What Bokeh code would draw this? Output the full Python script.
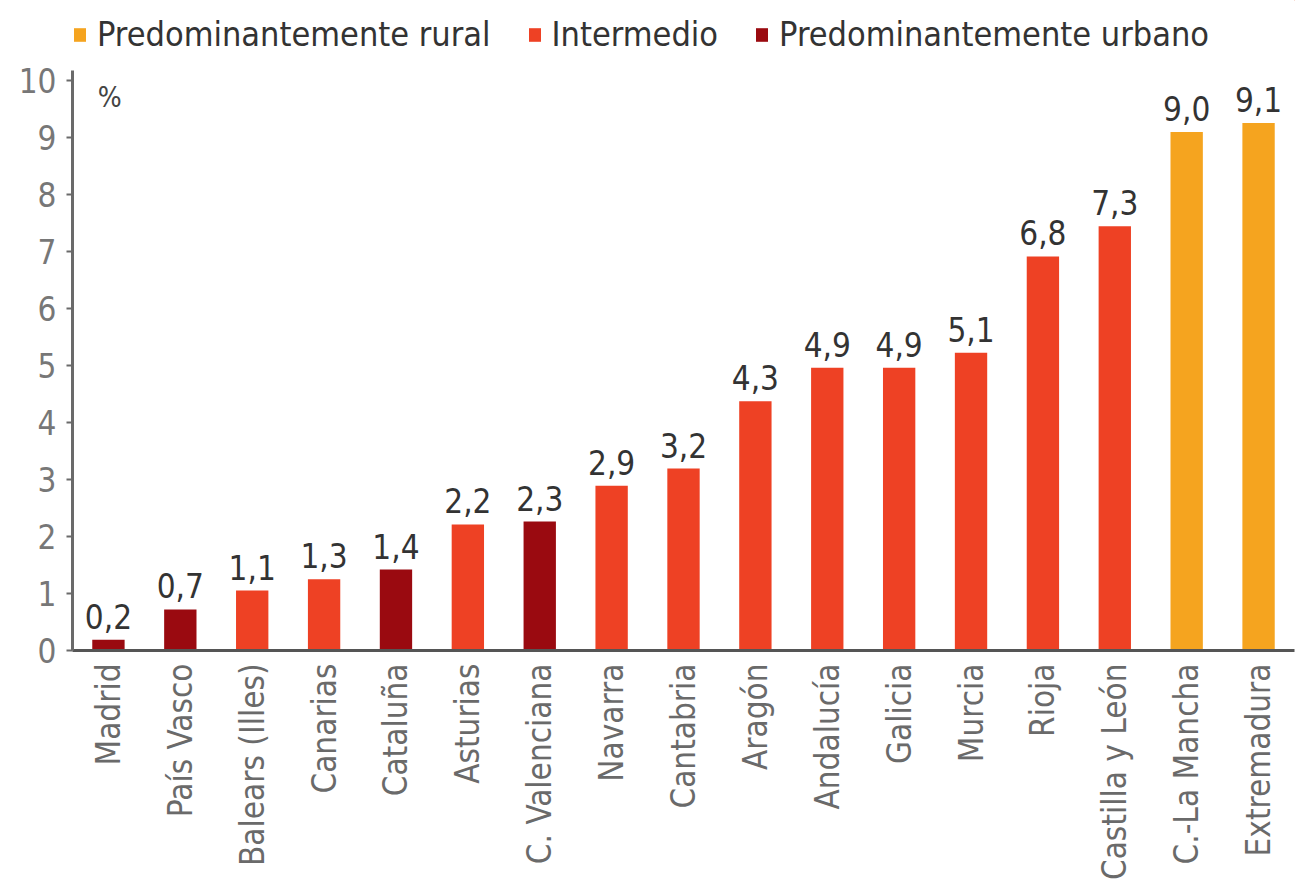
import math
from bokeh.plotting import figure
from bokeh.layouts import column
from bokeh.models import (ColumnDataSource, FactorRange, Range1d, FixedTicker,
                          Legend, LegendItem, Label, LabelSet)
from bokeh.core.properties import value
from bokeh.embed import file_html
from bokeh.resources import INLINE

# ---- data ----
regions = ["Madrid", "País Vasco", "Balears (Illes)", "Canarias", "Cataluña",
           "Asturias", "C. Valenciana", "Navarra", "Cantabria", "Aragón",
           "Andalucía", "Galicia", "Murcia", "Rioja", "Castilla y León",
           "C.-La Mancha", "Extremadura"]
values = [0.19, 0.72, 1.05, 1.25, 1.42, 2.21, 2.26, 2.89, 3.19, 4.37,
          4.96, 4.96, 5.22, 6.91, 7.44, 9.09, 9.25]
value_labels = ["0,2", "0,7", "1,1", "1,3", "1,4", "2,2", "2,3", "2,9", "3,2",
                "4,3", "4,9", "4,9", "5,1", "6,8", "7,3", "9,0", "9,1"]
types = ["urbano", "urbano", "intermedio", "intermedio", "urbano",
         "intermedio", "urbano", "intermedio", "intermedio", "intermedio",
         "intermedio", "intermedio", "intermedio", "intermedio", "intermedio",
         "rural", "rural"]
type_order = ["rural", "intermedio", "urbano"]
type_names = {"rural": "Predominantemente rural",
              "intermedio": "Intermedio",
              "urbano": "Predominantemente urbano"}
type_colors = {"rural": "#F5A41F", "intermedio": "#EE4124", "urbano": "#9A0A10"}
y_ticks = [0, 1, 2, 3, 4, 5, 6, 7, 8, 9, 10]

FONT = "DejaVu Sans Condensed"

# ---- main chart ----
p = figure(x_range=FactorRange(factors=regions), y_range=Range1d(0, 10.17),
           frame_width=1222, frame_height=580,
           min_border_left=72, min_border_right=3, min_border_top=16,
           min_border_bottom=10,
           output_backend="svg", toolbar_location=None,
           background_fill_color="white", border_fill_color="white")
p.outline_line_color = None
p.xgrid.grid_line_color = None
p.ygrid.grid_line_color = None

for t in type_order:
    idx = [i for i, tt in enumerate(types) if tt == t]
    src = ColumnDataSource(dict(x=[regions[i] for i in idx],
                                top=[values[i] for i in idx]))
    p.vbar(x="x", top="top", width=0.45, source=src,
           fill_color=type_colors[t], line_color=None)

lab_src = ColumnDataSource(dict(x=regions, y=values, t=value_labels))
p.add_layout(LabelSet(x="x", y="y", text="t", source=lab_src,
                      text_align="center", text_baseline="alphabetic",
                      y_offset=11, text_font=value(FONT),
                      text_font_size=value("33px"),
                      text_color=value("#333333")))

# y axis
ya = p.yaxis[0]
ya.ticker = FixedTicker(ticks=y_ticks)
ya.axis_line_color = "#6a6a6a"
ya.axis_line_width = 3
ya.major_tick_line_color = "#6a6a6a"
ya.major_tick_line_width = 2
ya.major_tick_in = 0
ya.major_tick_out = 6
ya.minor_tick_line_color = None
ya.major_label_text_font = FONT
ya.major_label_text_font_size = "33px"
ya.major_label_text_color = "#777777"
ya.major_label_standoff = 10

# x axis
xa = p.xaxis[0]
xa.axis_line_color = "#555555"
xa.axis_line_width = 3
xa.major_tick_line_color = None
xa.minor_tick_line_color = None
xa.major_label_orientation = math.pi / 2
xa.major_label_text_font = FONT
xa.major_label_text_font_size = "33px"
xa.major_label_text_color = "#6a6a6a"
xa.major_label_standoff = 7

p.add_layout(Label(x=0.35, y=9.7, text="%", text_font=FONT,
                   text_font_size="28px", text_color="#444444",
                   text_baseline="middle"))

# ---- legend strip above the chart ----
lg = figure(width=1297, height=54, x_range=Range1d(0, 1), y_range=Range1d(0, 1),
            min_border=0, output_backend="svg", toolbar_location=None,
            background_fill_color="white", border_fill_color="white")
lg.axis.visible = False
lg.grid.visible = False
lg.outline_line_color = None
items = []
for t in type_order:
    # swatch renderer only; its single bar lies outside the visible range
    r = lg.vbar(x=[5], top=[5], bottom=[4], width=0.5,
                fill_color=type_colors[t], line_color=None)
    items.append(LegendItem(label=type_names[t], renderers=[r]))
legend = Legend(items=items, orientation="horizontal",
                location=(0, 0), border_line_color=None,
                background_fill_alpha=0, padding=0, margin=0,
                spacing=36, glyph_width=15, glyph_height=17,
                label_standoff=10, label_text_font=FONT,
                label_text_font_size="34px", label_text_color="#333333")
lg.add_layout(legend, "center")

layout = column(lg, p, spacing=0)
open("out.html", "w").write(file_html(layout, INLINE))
